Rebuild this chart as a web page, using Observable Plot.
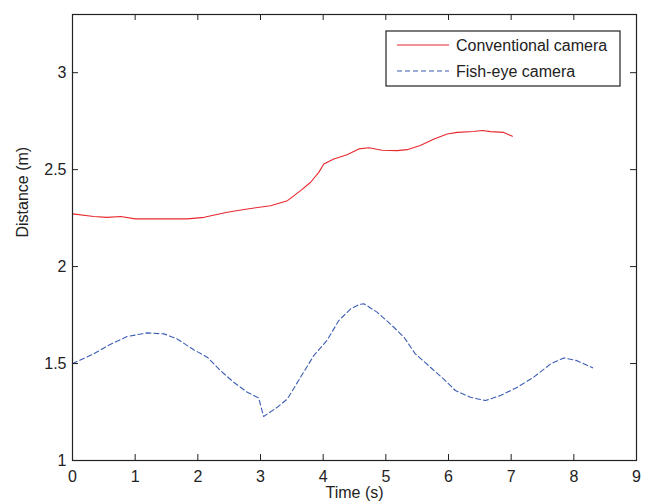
<!DOCTYPE html>
<html><head><meta charset="utf-8">
<script src="https://cdn.jsdelivr.net/npm/d3@7"></script>
<script src="https://cdn.jsdelivr.net/npm/@observablehq/plot@0.6"></script>
<style>body{margin:0;background:#fff} #chart{width:654px;height:504px}</style>
</head><body><div id="chart"></div>
<script>
// Conventional camera series
const convTime = [0, 0.34, 0.55, 0.77, 1.0, 1.4, 1.83, 2.1, 2.47, 2.79, 3.16, 3.43, 3.64, 3.8, 3.93, 4.01, 4.17, 4.38, 4.57, 4.73, 4.94, 5.18, 5.34, 5.55, 5.77, 5.98, 6.14, 6.4, 6.54, 6.67, 6.88, 7.02];
const convDist = [2.272, 2.258, 2.254, 2.258, 2.246, 2.246, 2.246, 2.254, 2.28, 2.297, 2.314, 2.34, 2.392, 2.435, 2.486, 2.529, 2.555, 2.577, 2.607, 2.613, 2.6, 2.598, 2.603, 2.624, 2.658, 2.684, 2.692, 2.697, 2.702, 2.696, 2.692, 2.672];
// Fish-eye camera series
const fishTime = [0, 0.34, 0.61, 0.87, 1.19, 1.46, 1.67, 1.94, 2.15, 2.36, 2.57, 2.79, 2.97, 3.05, 3.27, 3.43, 3.64, 3.85, 4.06, 4.25, 4.44, 4.57, 4.65, 4.86, 5.07, 5.29, 5.47, 5.71, 5.92, 6.11, 6.35, 6.59, 6.83, 7.1, 7.36, 7.63, 7.84, 8.05, 8.3];
const fishDist = [1.5, 1.55, 1.6, 1.639, 1.658, 1.653, 1.627, 1.57, 1.533, 1.464, 1.404, 1.352, 1.323, 1.227, 1.275, 1.318, 1.43, 1.541, 1.619, 1.722, 1.782, 1.804, 1.808, 1.765, 1.705, 1.636, 1.55, 1.481, 1.421, 1.361, 1.326, 1.309, 1.335, 1.378, 1.43, 1.498, 1.529, 1.515, 1.478];

const seriesNames = ["Conventional camera", "Fish-eye camera"];
const seriesColors = ["#e8282e", "#3b5db4"];
const seriesDash = ["none", "5,3"];
const xTicks = [0, 1, 2, 3, 4, 5, 6, 7, 8, 9];
const yTicks = [1, 1.5, 2, 2.5, 3];
const xLabel = "Time (s)";
const yLabel = "Distance (m)";

const conv = convTime.map((t, i) => ({t, d: convDist[i]}));
const fish = fishTime.map((t, i) => ({t, d: fishDist[i]}));

const W = 654, H = 504, mt = 14, mb = 44, ml = 72, mr = 18;
const ph = H - mt - mb, pw = W - ml - mr;
const ink = "#222";
const tick = 6;
const fontFam = "'Liberation Sans', Arial, sans-serif";

const svg = Plot.plot({
  width: W, height: H,
  marginTop: mt, marginBottom: mb, marginLeft: ml, marginRight: mr,
  style: {fontFamily: fontFam, fontSize: "16px", color: ink, background: "#fff"},
  x: {domain: [0, 9]},
  y: {domain: [1, 3.3]},
  marks: [
    Plot.line(conv, {x: "t", y: "d", stroke: seriesColors[0], strokeWidth: 1.1}),
    Plot.line(fish, {x: "t", y: "d", stroke: seriesColors[1], strokeWidth: 1.1, strokeDasharray: seriesDash[1]}),
    Plot.tickX(xTicks, {x: d => d, insetTop: ph - tick, stroke: ink}),
    Plot.tickX(xTicks, {x: d => d, insetBottom: ph - tick, stroke: ink}),
    Plot.tickY(yTicks, {y: d => d, insetRight: pw - tick, stroke: ink}),
    Plot.tickY(yTicks, {y: d => d, insetLeft: pw - tick, stroke: ink}),
    Plot.frame({stroke: ink, strokeWidth: 1.2}),
    Plot.axisX({ticks: xTicks, tickSize: 0, tickPadding: 10, label: null, tickFormat: d => String(d)}),
    Plot.axisY({ticks: yTicks, tickSize: 0, tickPadding: 6, label: null, tickFormat: d => String(d)}),
    Plot.text([xLabel], {text: d => d, frameAnchor: "bottom", dy: 37, fontSize: 16, fill: ink}),
    Plot.text([yLabel], {text: d => d, frameAnchor: "left", dx: -50, rotate: -90, fontSize: 16, fill: ink})
  ]
});

// Legend box (top-right inside plot)
const lg = d3.select(svg).append("g")
  .attr("font-family", fontFam).attr("font-size", 16).attr("text-anchor", "start");
const lx = 386, ly = 31, lw = 234, lh = 55;
lg.append("rect").attr("x", lx).attr("y", ly).attr("width", lw).attr("height", lh)
  .attr("fill", "#fff").attr("stroke", ink).attr("stroke-width", 1.2);
seriesNames.forEach((name, i) => {
  const yy = ly + 14 + i * 26;
  lg.append("path").attr("d", `M${lx + 11},${yy}H${lx + 63}`)
    .attr("fill", "none")
    .attr("stroke", seriesColors[i]).attr("stroke-width", 1.1)
    .attr("stroke-dasharray", seriesDash[i]);
  lg.append("text").attr("x", lx + 70).attr("y", yy).attr("dy", "0.35em")
    .attr("fill", ink).text(name);
});

document.getElementById("chart").appendChild(svg);
</script>
</body></html>
